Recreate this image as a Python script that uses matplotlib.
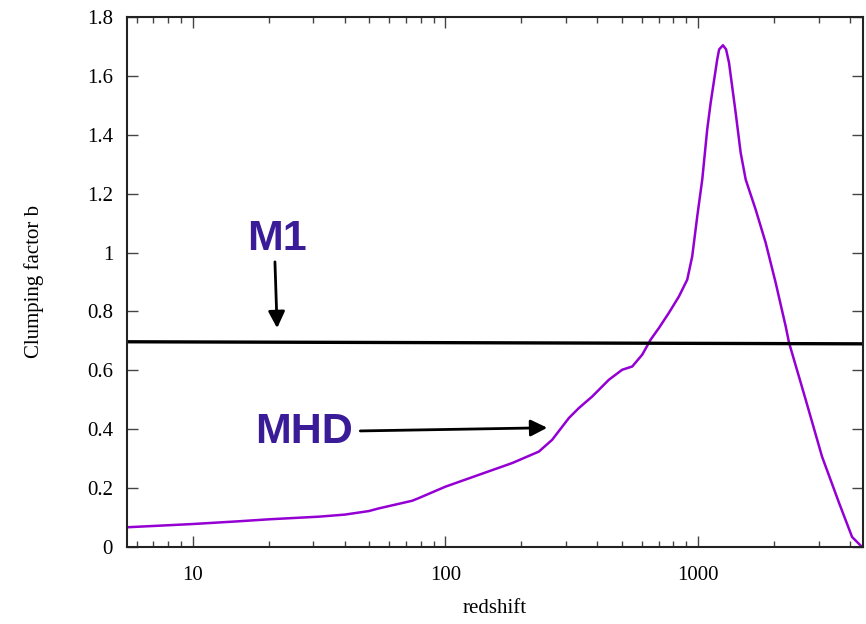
import matplotlib
matplotlib.use("Agg")
import matplotlib.pyplot as plt
from matplotlib.ticker import FixedLocator, LogLocator, NullFormatter

# MHD clumping factor vs redshift
redshift = [5.5, 10, 15, 20, 31.6, 40, 49.8, 54.5, 67.3, 73.9, 78.5, 100.2, 135.7,
            183.9, 234.6, 264.8, 308.4, 337.9, 381.4, 444.1, 501.4, 549.4, 601.6,
            649.5, 701, 767, 841, 907, 949, 994, 1040, 1088, 1123, 1192, 1213,
            1256, 1292, 1327, 1410, 1476, 1545, 1692, 1854, 2031, 2225, 2293,
            2670, 3098, 3617, 4074, 4462]
clumping = [0.067, 0.078, 0.087, 0.094, 0.103, 0.110, 0.122, 0.131, 0.149, 0.157,
            0.166, 0.205, 0.245, 0.285, 0.324, 0.364, 0.438, 0.472, 0.511, 0.568,
            0.602, 0.613, 0.653, 0.704, 0.744, 0.795, 0.851, 0.908, 0.987, 1.124,
            1.248, 1.418, 1.509, 1.656, 1.69, 1.704, 1.69, 1.645, 1.475, 1.339,
            1.248, 1.146, 1.033, 0.897, 0.749, 0.694, 0.5, 0.307, 0.15, 0.034, 0.0]

# M1 reference line
m1_z = [5.5, 4500]
m1_b = [0.697, 0.690]

xlim = (5.5, 4500)
ylim = (0, 1.8)
yticks = [0, 0.2, 0.4, 0.6, 0.8, 1.0, 1.2, 1.4, 1.6, 1.8]
ytick_labels = ["0", "0.2", "0.4", "0.6", "0.8", "1", "1.2", "1.4", "1.6", "1.8"]
xticks = [10, 100, 1000]
xtick_labels = ["10", "100", "1000"]

serif = ["Liberation Serif", "DejaVu Serif"]

fig = plt.figure(figsize=(8.66, 6.24), dpi=100)
ax = fig.add_axes([127/866, 1-547/624, 736/866, 530/624])

ax.plot(redshift, clumping, color="#9400D3", lw=1.8, solid_joinstyle="round",
        solid_capstyle="round")
ax.plot(m1_z, m1_b, color="black", lw=2.4)

ax.set_xscale("log")
ax.set_xlim(*xlim)
ax.set_ylim(*ylim)
ax.xaxis.set_major_locator(FixedLocator(xticks))
ax.set_xticklabels(xtick_labels, fontfamily=serif, fontsize=15)
ax.xaxis.set_minor_locator(LogLocator(base=10, subs=range(2, 10)))
ax.xaxis.set_minor_formatter(NullFormatter())
ax.set_yticks(yticks)
ax.set_yticklabels(ytick_labels, fontfamily=serif, fontsize=15)

ax.tick_params(which="both", direction="in", top=True, right=True, color="#444444")
ax.tick_params(which="major", length=8, width=1)
ax.tick_params(which="minor", length=4, width=1)
ax.tick_params(axis="x", pad=14)
ax.tick_params(axis="y", pad=10)
for s in ax.spines.values():
    s.set_linewidth(1.5)
    s.set_color("#222222")

ax.set_xlabel("redshift", fontfamily=serif, fontsize=15, labelpad=10)
ax.set_ylabel("Clumping factor b", fontfamily=serif, fontsize=15, labelpad=31)

lab_color = "#3A1C98"
bold = ["Liberation Sans", "DejaVu Sans"]
ax.text(0.204, 0.581, "M1", transform=ax.transAxes, ha="center", va="center",
        fontsize=31, fontweight="bold", color=lab_color, fontfamily=bold)
ax.text(0.240, 0.217, "MHD", transform=ax.transAxes, ha="center", va="center",
        fontsize=31, fontweight="bold", color=lab_color, fontfamily=bold)

arrow = dict(arrowstyle="-|>,head_length=1.0,head_width=0.5", color="black",
             lw=2, shrinkA=0, shrinkB=0)
ax.annotate("", xy=(0.204, 0.413), xytext=(0.201, 0.538),
            xycoords="axes fraction", textcoords="axes fraction", arrowprops=arrow)
ax.annotate("", xy=(0.571, 0.225), xytext=(0.317, 0.219),
            xycoords="axes fraction", textcoords="axes fraction", arrowprops=arrow)

fig.savefig("out.png", dpi=100)
